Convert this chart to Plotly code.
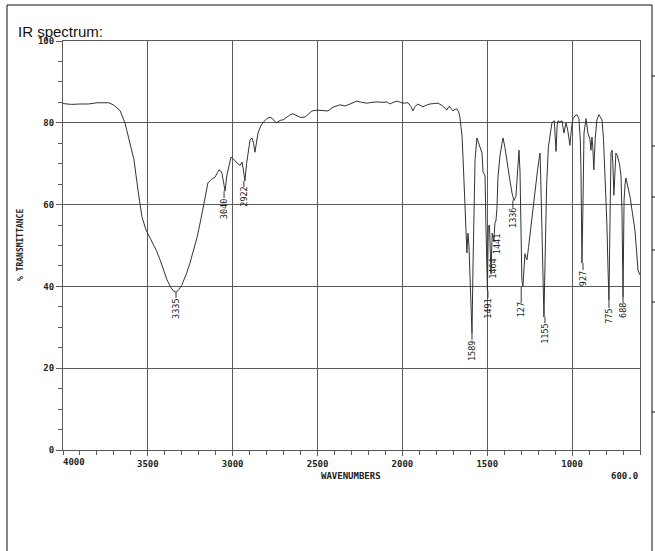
import plotly.graph_objects as go

# spectrum (wavenumber in cm-1, % transmittance)
wavenumber = [
    4000, 3950, 3900, 3850, 3800, 3760, 3730, 3700, 3664, 3635, 3605, 3582,
    3558, 3535, 3511, 3490, 3470, 3450, 3428, 3407, 3387, 3365, 3350, 3334,
    3317, 3300, 3293, 3272, 3252, 3230, 3210, 3192, 3175, 3160, 3146, 3125,
    3104, 3090, 3081, 3070, 3063, 3052, 3045, 3035, 3022, 3010, 3000, 2985,
    2970, 2957, 2945, 2937, 2928, 2918, 2910, 2898, 2886, 2877, 2869, 2860,
    2851, 2835, 2822, 2800, 2780, 2760, 2745, 2739, 2720, 2704, 2680, 2660,
    2645, 2620, 2600, 2574, 2555, 2533, 2503, 2470, 2439, 2410, 2368, 2338,
    2300, 2268, 2240, 2209, 2180, 2150, 2120, 2091, 2073, 2055, 2032, 2015,
    1997, 1967, 1950, 1938, 1925, 1908, 1893, 1879, 1860, 1838, 1815, 1791,
    1765, 1750, 1738, 1728, 1720, 1710, 1702, 1690, 1679, 1670, 1661, 1655,
    1649, 1643, 1637, 1631, 1626, 1620, 1614, 1608, 1602, 1596, 1590, 1584,
    1578, 1572, 1561, 1552, 1543, 1531, 1525, 1519, 1513, 1508, 1499, 1494,
    1487, 1478, 1471, 1461, 1455, 1449, 1443, 1437, 1425, 1413, 1407, 1396,
    1378, 1365, 1354, 1343, 1331, 1325, 1319, 1313, 1307, 1301, 1296, 1290,
    1284, 1278, 1272, 1266, 1257, 1248, 1230, 1219, 1205, 1195, 1189, 1184,
    1178, 1172, 1166, 1160, 1150, 1140, 1130, 1119, 1105, 1095, 1088, 1083,
    1072, 1060, 1048, 1036, 1025, 1013, 1003, 995, 983, 972, 960, 952,
    948, 942, 936, 930, 918, 907, 895, 889, 883, 878, 872, 864,
    854, 842, 835, 824, 815, 807, 801, 795, 789, 783, 777, 771,
    765, 760, 754, 748, 742, 736, 730, 721, 712, 706, 700, 694,
    688, 683, 675, 659, 645, 630, 620, 612, 600,
]
transmittance = [
    84.7, 84.5, 84.6, 84.6, 84.9, 85.0, 84.9, 84.3, 83.0, 80.0, 75.0, 71.0,
    63.5, 57.0, 53.8, 52.0, 50.6, 48.8, 46.5, 44.0, 41.6, 39.8, 38.9, 38.6,
    39.2, 40.3, 41.0, 43.2, 45.7, 48.8, 52.0, 55.5, 59.4, 62.5, 65.3, 66.2,
    66.7, 67.8, 68.5, 68.2, 67.6, 65.0, 63.3, 67.0, 69.5, 71.6, 71.3, 70.6,
    70.0, 69.6, 70.4, 68.5, 65.8, 70.0, 72.5, 75.8, 76.3, 75.0, 72.8, 75.5,
    77.5, 79.2, 80.0, 81.0, 81.4, 80.8, 80.0, 80.1, 80.6, 80.7, 81.5, 82.0,
    82.2, 81.7, 81.3, 81.4, 82.0, 82.9, 83.1, 83.0, 82.9, 83.8, 84.4, 84.1,
    84.8, 85.3, 85.0, 84.8, 85.0, 85.1, 85.0, 85.1, 84.6, 85.0, 85.3, 85.0,
    84.8, 84.9, 84.0, 82.9, 84.0, 84.6, 84.2, 83.9, 84.3, 84.6, 84.7, 84.8,
    84.2, 83.5, 83.1, 83.9, 83.9, 83.3, 82.9, 83.3, 83.4, 82.8, 81.4, 79.0,
    77.0, 71.6, 65.0, 61.0, 51.0, 48.2, 53.0, 50.0, 43.0, 33.0, 28.5, 45.0,
    64.0, 71.0, 76.3, 75.0, 74.0, 72.6, 68.0, 67.5, 67.0, 55.0, 39.0, 54.5,
    55.0, 43.0, 53.0, 51.0, 55.5, 56.0, 59.0, 66.7, 72.0, 75.0, 76.3, 74.0,
    68.5, 65.5, 62.8, 61.0, 62.0, 66.0, 68.5, 73.3, 68.0, 54.5, 41.5, 40.0,
    43.0, 48.0, 47.0, 46.5, 49.5, 53.0, 59.0, 63.0, 68.0, 71.0, 72.6, 65.0,
    52.0, 38.0, 32.5, 45.0, 65.0, 74.0, 77.5, 80.0, 80.5, 73.0, 79.5, 80.5,
    80.2, 80.5, 77.5, 80.0, 78.0, 74.5, 79.0, 81.0, 81.7, 82.0, 81.0, 76.0,
    69.0, 45.7, 60.0, 77.5, 81.0, 77.5, 76.0, 73.3, 76.5, 74.0, 68.5, 76.0,
    80.7, 82.0, 81.5, 80.7, 76.0, 69.0, 62.0, 55.0, 45.0, 36.7, 55.0, 72.6,
    73.3, 70.0, 62.3, 68.0, 72.6, 72.3, 71.6, 70.0, 67.0, 58.0, 37.4, 61.0,
    65.0, 66.5, 65.0, 62.0, 58.0, 53.8, 48.5, 44.0, 42.8,
]

# peak labels printed under the bands
peak_text = ["3335", "3040", "2922", "1589", "1491", "1464", "1441",
             "1336", "127", "1155", "927", "775", "688"]
peak_wn = [3334, 3051, 2934, 1590, 1496, 1466, 1443,
           1349, 1300, 1160, 936, 783, 700]
peak_min = [38.6, 63.3, 65.8, 28.5, 39.0, 43.0, 51.0,
            61.0, 40.0, 32.5, 45.7, 36.7, 37.4]

x_ticks = [3500, 3000, 2500, 2000, 1500, 1000]
y_ticks = [0, 20, 40, 60, 80, 100]

# placement of the printed labels (centre and top, in % T)
label_mid = [34.5, 58.9, 61.9, 24.2, 34.5, 44.3, 50.3, 56.7, 34.2, 28.4, 42.0, 32.8, 34.0]
label_top = [37.2, 61.6, 64.3, 26.9, 37.2, 47.2, 52.1, 59.2, 35.9, 31.0, 44.0, 34.7, 35.9]

W, H = 655, 551
L, R, T, B = 63, 640, 41, 450
INK = "#333333"
GRID = "#5a5a5a"
MONO = "DejaVu Sans Mono"


def px(x):
    return (x - L) / (R - L)


def py(y):
    return (B - y) / (B - T)


fig = go.Figure()
fig.add_trace(go.Scatter(
    x=wavenumber, y=transmittance, mode="lines",
    line=dict(color=INK, width=1), hoverinfo="skip", showlegend=False,
))

# little leader lines from band minimum down to its label
lx, ly = [], []
for w, lo, top in zip(peak_wn, peak_min, label_top):
    if top < lo:
        lx += [w, w, None]
        ly += [lo, top, None]
fig.add_trace(go.Scatter(
    x=lx, y=ly, mode="lines", line=dict(color=INK, width=1),
    hoverinfo="skip", showlegend=False,
))

for txt, w, ym in zip(peak_text, peak_wn, label_mid):
    fig.add_annotation(
        x=w, y=ym, text=txt, textangle=-90, showarrow=False,
        xanchor="center", yanchor="middle",
        font=dict(family=MONO, size=8.5, color="#222"),
    )

fig.update_xaxes(
    range=[4000, 600], tickvals=x_ticks,
    ticks="outside", ticklen=5, tickcolor=GRID, tickwidth=1,
    showgrid=True, gridcolor=GRID, gridwidth=1,
    showline=True, linecolor=GRID, linewidth=1, mirror=True,
    zeroline=False,
    minor=dict(dtick=100, tick0=0, ticks="outside", ticklen=4,
               tickcolor=GRID, showgrid=False),
    tickfont=dict(family=MONO, size=9, color="#222", weight="bold"),
)
fig.update_yaxes(
    range=[0, 100], tickvals=y_ticks,
    ticks="outside", ticklen=6, tickcolor=GRID, tickwidth=1,
    showgrid=True, gridcolor=GRID, gridwidth=1,
    showline=True, linecolor=GRID, linewidth=1, mirror=True,
    zeroline=False,
    minor=dict(dtick=5, ticks="outside", ticklen=4,
               tickcolor=GRID, showgrid=False),
    tickfont=dict(family=MONO, size=9, color="#222", weight="bold"),
)

mono_small = dict(family=MONO, size=9, color="#222", weight="bold")
fig.add_annotation(x=4000, y=0, xref="x", yref="y", text="4000", showarrow=False,
                   xanchor="left", yanchor="top", yshift=-5, xshift=-2, font=mono_small)
fig.add_annotation(x=600, y=py(476), xref="x", yref="paper", text="600.0",
                   showarrow=False, xanchor="right", yanchor="middle", font=mono_small)
fig.add_annotation(x=px(351), y=py(476), xref="paper", yref="paper", text="WAVENUMBERS",
                   showarrow=False, xanchor="center", yanchor="middle", font=mono_small)
fig.add_annotation(x=px(20), y=py(245), xref="paper", yref="paper", text="% TRANSMITTANCE",
                   textangle=-90, showarrow=False, xanchor="center", yanchor="middle",
                   font=dict(family=MONO, size=8, color="#222", weight="bold"))
fig.add_annotation(x=px(16), y=py(31), xref="paper", yref="paper", text="IR spectrum:",
                   showarrow=False, xanchor="left", yanchor="middle",
                   font=dict(family="Liberation Sans, Arial", size=15, color="#111"))

# frame of the scanned page
frame = dict(color="#111", width=1)
fig.add_shape(type="line", xref="paper", yref="paper",
              x0=px(7), x1=px(7), y0=py(5), y1=py(H), line=frame)
fig.add_shape(type="line", xref="paper", yref="paper",
              x0=px(7), x1=px(652), y0=py(5), y1=py(5), line=frame)
fig.add_shape(type="line", xref="paper", yref="paper",
              x0=px(652), x1=px(652), y0=py(5), y1=py(H), line=frame)
for yy in [76, 146, 197, 250, 302, 412]:
    fig.add_shape(type="line", xref="paper", yref="paper",
                  x0=px(652), x1=px(656), y0=py(yy), y1=py(yy), line=frame)

fig.update_layout(
    width=W, height=H,
    margin=dict(l=L, r=W - R, t=T, b=H - B),
    paper_bgcolor="white", plot_bgcolor="white",
    showlegend=False,
)

# drop the page's default body margin so the figure sits at the window corner
fig.write_html("out.html", config={"displayModeBar": False},
               post_script="document.body.style.margin='0';")
